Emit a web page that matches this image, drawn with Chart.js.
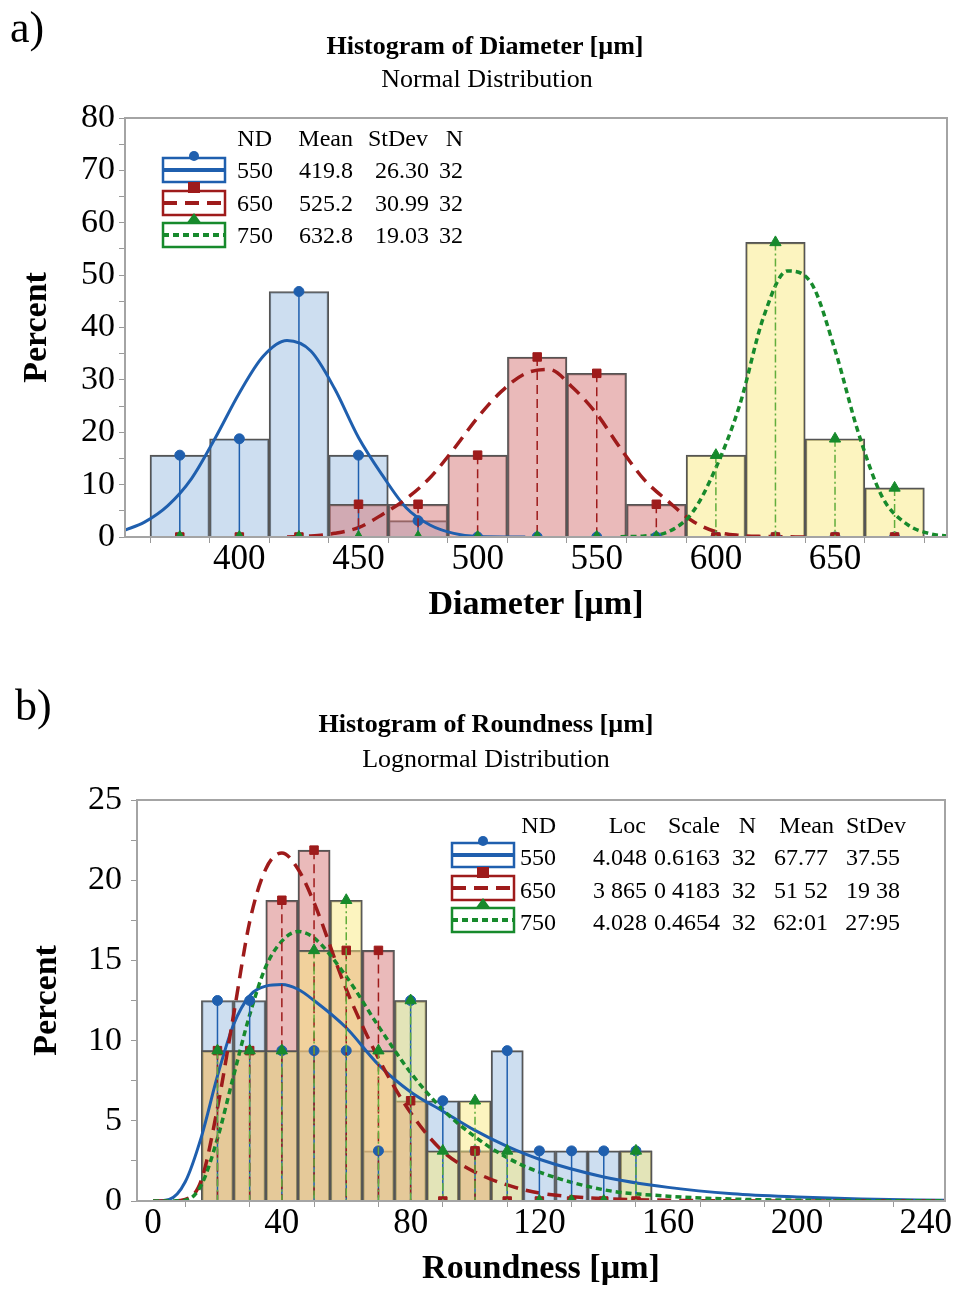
<!DOCTYPE html>
<html>
<head>
<meta charset="utf-8">
<script src="https://cdn.jsdelivr.net/npm/chart.js@4.4.1/dist/chart.umd.min.js"></script>
<style>
body { margin: 0; background: #fff; font-family: "Liberation Serif", "Times New Roman", serif; }
.panel { position: relative; width: 961px; }
#panelA { height: 640px; }
#panelB { height: 650px; }
.txt { position: absolute; white-space: nowrap; color: #000; line-height: 1; }
.tag { font-size: 44px; }
.ttl { font-size: 26px; }
.leg { font-size: 24px; }
.ico { position: absolute; }
</style>
</head>
<body>
<div class="panel" id="panelA"><canvas id="diaChart" width="961" height="640"></canvas></div>
<div class="panel" id="panelB"><canvas id="rndChart" width="961" height="650"></canvas></div>
<script>
// ---- a) diameter, bins of 25 um, percent of 32 samples
const diaBins = [375, 400, 425, 450, 475, 500, 525, 550, 575, 600, 625, 650, 675];
const diaPct550 = [15.625, 18.75, 46.875, 15.625, 3.125, 0, 0, 0, 0, 0, 0, 0, 0];
const diaPct650 = [0, 0, 0, 6.25, 6.25, 15.625, 34.375, 31.25, 6.25, 0, 0, 0, 0];
const diaPct750 = [0, 0, 0, 0, 0, 0, 0, 0, 0, 15.625, 56.25, 18.75, 9.375];

// normal fit curves
const diaFit550X = [352, 360, 370, 380, 390, 400, 410, 420, 430, 440, 450, 460, 470, 480, 490, 500, 520];
const diaFit550Y = [1.3, 2.8, 6.0, 11.2, 19.0, 27.5, 34.5, 37.5, 35.5, 28.3, 19.0, 11.8, 5.6, 2.3, 0.7, 0.1, 0];
const diaFit650X = [420, 430, 440, 450, 460, 470, 480, 490, 500, 510, 520, 530, 540, 550, 560, 570, 580, 590, 600, 610, 620, 640];
const diaFit650Y = [0, 0.2, 0.7, 1.8, 4.3, 7.3, 11.3, 16.8, 22.8, 27.8, 31.2, 32.0, 28.5, 23.5, 16.9, 10.9, 6.8, 3.1, 1.0, 0.3, 0.1, 0];
const diaFit750X = [560, 570, 580, 590, 600, 610, 620, 630, 640, 650, 660, 670, 680, 690, 697];
const diaFit750Y = [0.05, 0.2, 1.0, 4.6, 13.2, 25.2, 42.0, 50.8, 48.5, 35.7, 19.6, 7.5, 2.5, 0.6, 0.2];

const diaGroups = ['550', '650', '750'];
const diaMean = ['419.8', '525.2', '632.8'];
const diaStDev = ['26.30', '30.99', '19.03'];
const diaN = ['32', '32', '32'];

// ---- b) roundness, bins of 10 um
const rndBins = [20, 30, 40, 50, 60, 70, 80, 90, 100, 110, 120, 130, 140, 150];
const rndPct550 = [12.5, 12.5, 9.375, 9.375, 9.375, 3.125, 12.5, 6.25, 3.125, 9.375, 3.125, 3.125, 3.125, 3.125];
const rndPct650 = [9.375, 9.375, 18.75, 21.875, 15.625, 15.625, 6.25, 0, 3.125, 0, 0, 0, 0, 0];
const rndPct750 = [9.375, 9.375, 9.375, 15.625, 18.75, 9.375, 12.5, 3.125, 6.25, 3.125, 0, 0, 0, 3.125];

// lognormal fit curves
const rndFit550X = [0, 5, 10, 15, 20, 25, 30, 35, 40, 45, 50, 60, 70, 80, 90, 100, 110, 120, 140, 160, 180, 200, 220, 246];
const rndFit550Y = [0, 0.1, 1.2, 4.0, 7.8, 11.0, 12.8, 13.4, 13.5, 13.2, 12.5, 10.8, 8.5, 6.8, 5.6, 4.4, 3.4, 2.6, 1.5, 0.85, 0.45, 0.25, 0.12, 0.05];
const rndFit650X = [0, 5, 10, 15, 20, 25, 30, 35, 40, 45, 50, 60, 70, 80, 90, 100, 110, 120, 140, 160, 180, 246];
const rndFit650Y = [0, 0, 0.1, 1.3, 5.8, 11.6, 17.4, 20.7, 21.7, 20.7, 18.6, 13.2, 8.9, 5.5, 3.1, 1.8, 1.0, 0.5, 0.15, 0.05, 0.01, 0];
const rndFit750X = [0, 5, 10, 15, 20, 25, 30, 35, 40, 45, 50, 60, 70, 80, 90, 100, 110, 120, 140, 160, 180, 200, 246];
const rndFit750Y = [0, 0, 0.05, 1.0, 3.9, 7.8, 11.6, 14.6, 16.2, 16.8, 16.4, 14.0, 10.9, 8.0, 5.7, 4.0, 2.7, 1.8, 0.7, 0.3, 0.12, 0.05, 0.01];

const rndLoc = ['4.048', '3 865', '4.028'];
const rndScale = ['0.6163', '0 4183', '0.4654'];
const rndN = ['32', '32', '32'];
const rndMean = ['67.77', '51 52', '62:01'];
const rndStDev = ['37.55', '19 38', '27:95'];

const FONT = '"Liberation Serif", "Times New Roman", serif';
const looks = [
  { line: '#1f5fae', fill: 'rgba(160,192,226,0.52)', dash: [], drop: [], dropColor: '#1f5fae', marker: 'circle', mr: 5, lw: 3 },
  { line: '#9e1b1b', fill: 'rgba(214,118,118,0.5)', dash: [14, 8], drop: [9, 5], dropColor: '#9e1b1b', marker: 'rect', mr: 6, lw: 3.5 },
  { line: '#178a2c', fill: 'rgba(250,234,128,0.5)', dash: [6, 4], drop: [8, 3, 2, 3], dropColor: '#62ad3c', marker: 'triangle', mr: 6.5, lw: 3.5 }
];

function pts(xs, ys) {
  return xs.map(function (x, i) { return { x: x, y: ys[i] }; });
}

// thin drop lines from each marker to the axis
const dropLines = {
  id: 'dropLines',
  beforeDatasetDraw: function (chart, args) {
    const d = chart.data.datasets[args.index];
    if (d.drop === undefined) return;
    const L = looks[d.drop];
    const y0 = chart.scales.y.getPixelForValue(0);
    const ctx = chart.ctx;
    ctx.save();
    ctx.strokeStyle = L.dropColor;
    ctx.lineWidth = 1.5;
    ctx.setLineDash(L.drop);
    args.meta.data.forEach(function (p) {
      if (p.y < y0 - 1) {
        ctx.beginPath();
        ctx.moveTo(p.x, p.y);
        ctx.lineTo(p.x, y0);
        ctx.stroke();
      }
    });
    ctx.restore();
  }
};

const frame = {
  id: 'frame',
  afterDraw: function (chart) {
    const a = chart.chartArea, c = chart.ctx;
    c.save();
    c.strokeStyle = '#a4a4a4';
    c.lineWidth = 2;
    c.strokeRect(a.left, a.top, a.right - a.left, a.bottom - a.top);
    c.restore();
  }
};

function build(id, o) {
  const ds = [];
  o.bars.forEach(function (vals, k) {
    ds.push({
      type: 'bar', data: pts(o.bins, vals).filter(function (p) { return p.y > 0; }),
      backgroundColor: looks[k].fill, borderColor: '#555555', borderWidth: 1.6,
      grouped: false, barPercentage: 1, categoryPercentage: 1, order: 30 - k
    });
  });
  o.fits.forEach(function (f, k) {
    ds.push({
      type: 'line', data: pts(f[0], f[1]), borderColor: looks[k].line, borderWidth: looks[k].lw,
      borderDash: looks[k].dash, pointRadius: 0, cubicInterpolationMode: 'monotone', fill: false, order: 12 - k
    });
  });
  o.bars.forEach(function (vals, k) {
    ds.push({
      type: 'line', data: pts(o.bins, vals), showLine: false, pointStyle: looks[k].marker,
      pointRadius: looks[k].mr, pointBackgroundColor: looks[k].line, pointBorderColor: looks[k].line,
      pointBorderWidth: 1, drop: k, order: 5 - k
    });
  });

  return new Chart(document.getElementById(id), {
    type: 'bar',
    data: { datasets: ds },
    plugins: [dropLines, frame],
    options: {
      responsive: false,
      animation: false,
      layout: { padding: { top: o.top, right: o.right, left: 0, bottom: 0 } },
      plugins: { legend: { display: false }, tooltip: { enabled: false } },
      scales: {
        x: {
          type: 'linear', min: o.xMin, max: o.xMax, offset: false,
          afterFit: function (s) { s.height = o.xh; },
          border: { display: false },
          grid: { drawOnChartArea: false, tickLength: 6, color: '#999' },
          ticks: {
            stepSize: o.xStep, includeBounds: false, autoSkip: false, maxRotation: 0, padding: -4,
            color: '#000', font: { family: FONT, size: 35 },
            callback: function (v) { return v % o.xLabelEvery === 0 ? v : ''; }
          },
          title: {
            display: true, text: o.xTitle, color: '#000',
            font: { family: FONT, size: 34, weight: 'bold' }, padding: { top: 0, bottom: o.xTitlePad }
          }
        },
        y: {
          min: 0, max: o.yMax,
          afterFit: function (s) { s.width = o.yw; },
          border: { display: false },
          grid: { drawOnChartArea: false, tickLength: 6, color: '#999' },
          ticks: {
            stepSize: o.yStep, autoSkip: false, padding: o.yPad, color: '#000',
            font: { family: FONT, size: 34 },
            callback: function (v) { return v % o.yLabelEvery === 0 ? v : ''; }
          },
          title: {
            display: true, text: 'Percent', color: '#000',
            font: { family: FONT, size: 34, weight: 'bold' }, padding: { top: o.yTitlePad, bottom: 0 }
          }
        }
      }
    }
  });
}

build('diaChart', {
  bins: diaBins, bars: [diaPct550, diaPct650, diaPct750],
  fits: [[diaFit550X, diaFit550Y], [diaFit650X, diaFit650Y], [diaFit750X, diaFit750Y]],
  xMin: 352, xMax: 697, xStep: 25, xLabelEvery: 50, yMax: 80, yStep: 5, yLabelEvery: 10,
  top: 118, right: 14, xh: 103, yw: 125, yPad: 4, xTitle: 'Diameter [\u00b5m]', xTitlePad: 14, yTitlePad: 17
});

build('rndChart', {
  bins: rndBins, bars: [rndPct550, rndPct650, rndPct750],
  fits: [[rndFit550X, rndFit550Y], [rndFit650X, rndFit650Y], [rndFit750X, rndFit750Y]],
  xMin: -5, xMax: 246, xStep: 20, xLabelEvery: 40, yMax: 25, yStep: 2.5, yLabelEvery: 5,
  top: 160, right: 16, xh: 89, yw: 137, yPad: 9, xTitle: 'Roundness [\u00b5m]', xTitlePad: 0, yTitlePad: 27
});

// ---- titles and legend tables as real text
function put(panel, text, x, y, cls, align, bold) {
  const el = document.createElement('div');
  el.className = 'txt ' + cls;
  el.textContent = text;
  el.style.left = x + 'px';
  el.style.top = y + 'px';
  if (bold) el.style.fontWeight = 'bold';
  el.style.transform = align === 'right' ? 'translate(-100%,-50%)' : align === 'center' ? 'translate(-50%,-50%)' : 'translate(0,-50%)';
  document.getElementById(panel).appendChild(el);
}

function icon(panel, k, x, y) {
  const L = looks[k], c = L.line;
  let m;
  if (L.marker === 'circle') m = '<circle cx="33" cy="8" r="5" fill="' + c + '"/>';
  else if (L.marker === 'rect') m = '<rect x="27" y="1" width="12" height="11" fill="' + c + '"/>';
  else m = '<polygon points="33,0 41,11 25,11" fill="' + c + '"/>';
  const el = document.createElement('div');
  el.className = 'ico';
  el.style.left = (x - 2) + 'px';
  el.style.top = (y - 22) + 'px';
  el.innerHTML = '<svg width="66" height="36" viewBox="0 0 66 36">' +
    '<rect x="2" y="10" width="62" height="24" fill="#fff" stroke="' + c + '" stroke-width="2.5"/>' +
    '<line x1="2" y1="22" x2="64" y2="22" stroke="' + c + '" stroke-width="4" stroke-dasharray="' + L.dash.join(' ') + '"/>' +
    m + '</svg>';
  document.getElementById(panel).appendChild(el);
}

put('panelA', 'a)', 10, 28, 'tag', 'left');
put('panelA', 'Histogram of Diameter [\u00b5m]', 485, 46, 'ttl', 'center', true);
put('panelA', 'Normal Distribution', 487, 79, 'ttl', 'center');
put('panelA', 'ND', 272, 138, 'leg', 'right');
put('panelA', 'Mean', 353, 138, 'leg', 'right');
put('panelA', 'StDev', 428, 138, 'leg', 'right');
put('panelA', 'N', 463, 138, 'leg', 'right');
diaGroups.forEach(function (g, k) {
  const y = 170 + k * 32.5;
  icon('panelA', k, 163, y);
  put('panelA', g, 273, y, 'leg', 'right');
  put('panelA', diaMean[k], 353, y, 'leg', 'right');
  put('panelA', diaStDev[k], 429, y, 'leg', 'right');
  put('panelA', diaN[k], 463, y, 'leg', 'right');
});

put('panelB', 'b)', 15, 66, 'tag', 'left');
put('panelB', 'Histogram of Roundness [\u00b5m]', 486, 84, 'ttl', 'center', true);
put('panelB', 'Lognormal Distribution', 486, 119, 'ttl', 'center');
put('panelB', 'ND', 556, 185, 'leg', 'right');
put('panelB', 'Loc', 646, 185, 'leg', 'right');
put('panelB', 'Scale', 720, 185, 'leg', 'right');
put('panelB', 'N', 756, 185, 'leg', 'right');
put('panelB', 'Mean', 834, 185, 'leg', 'right');
put('panelB', 'StDev', 906, 185, 'leg', 'right');
diaGroups.forEach(function (g, k) {
  const y = 217 + k * 32.5;
  icon('panelB', k, 452, y - 2);
  put('panelB', g, 556, y, 'leg', 'right');
  put('panelB', rndLoc[k], 647, y, 'leg', 'right');
  put('panelB', rndScale[k], 720, y, 'leg', 'right');
  put('panelB', rndN[k], 756, y, 'leg', 'right');
  put('panelB', rndMean[k], 828, y, 'leg', 'right');
  put('panelB', rndStDev[k], 900, y, 'leg', 'right');
});
</script>
</body>
</html>
